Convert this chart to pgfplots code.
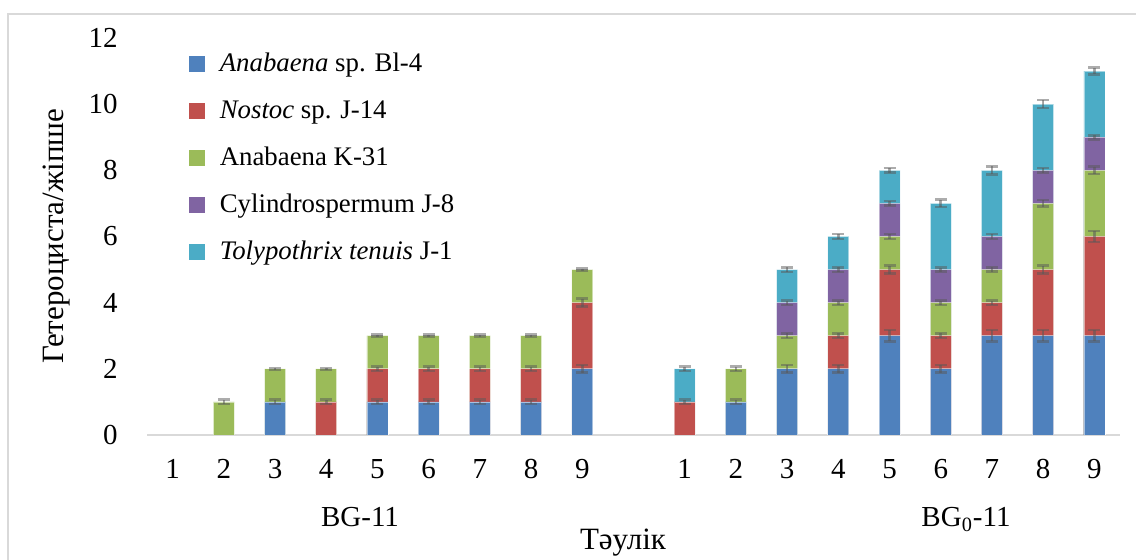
\documentclass[border=0pt]{standalone}
\usepackage{fontspec}
\setmainfont{Liberation Serif}
\usepackage{pgfplots}
\usepackage{pgfplotstable}
\pgfplotsset{compat=1.18}

\definecolor{cBlue}{HTML}{4F81BD}
\definecolor{cRed}{HTML}{C0504D}
\definecolor{cGreen}{HTML}{9BBB59}
\definecolor{cPurple}{HTML}{8064A2}
\definecolor{cCyan}{HTML}{4BACC6}
\definecolor{errGray}{HTML}{595959}
\definecolor{lineGray}{HTML}{D9D9D9}

% Positions: 0-8 = BG-11 days 1-9, 10-18 = BG0-11 days 1-9.
% y = upper edge of the segment in the stack, e = error.
\pgfplotstableread{
x y e
2 1 0.065
4 1 0.065
5 1 0.065
6 1 0.065
7 1 0.065
8 2 0.12
11 1 0.065
12 2 0.12
13 2 0.12
14 3 0.17
15 2 0.12
16 3 0.17
17 3 0.17
18 3 0.17
}\tabBlue
\pgfplotstableread{
x y e
3 1 0.065
4 2 0.065
5 2 0.065
6 2 0.065
7 2 0.065
8 4 0.12
10 1 0.065
13 3 0.07
14 5 0.12
15 3 0.07
16 4 0.065
17 5 0.12
18 6 0.17
}\tabRed
\pgfplotstableread{
x y e
1 1 0.065
2 2 0.03
3 2 0.03
4 3 0.03
5 3 0.03
6 3 0.03
7 3 0.03
8 5 0.03
11 2 0.07
12 3 0.07
13 4 0.065
14 6 0.07
15 4 0.065
16 5 0.065
17 7 0.10
18 8 0.11
}\tabGreen
\pgfplotstableread{
x y e
12 4 0.065
13 5 0.07
14 7 0.07
15 5 0.06
16 6 0.07
17 8 0.07
18 9 0.06
}\tabPurple
\pgfplotstableread{
x y e
10 2 0.07
12 5 0.07
13 6 0.07
14 8 0.07
15 7 0.11
16 8 0.12
17 10 0.12
18 11 0.10
}\tabCyan

\pgfplotsset{
  seg/.style={fill=#1, draw=white, draw opacity=0.5, line width=0.4pt,
    bar shift=0pt, bar width=10.5pt,
    error bars/.cd, y dir=both, y explicit,
    error bar style={line width=1.3pt, color=errGray},
    error mark options={rotate=90, mark size=3pt, line width=1.3pt, color=errGray}},
}

\newcommand{\bigfont}{\fontsize{14.5}{17}\selectfont}
\newcommand{\labelfont}{\fontsize{15.5}{18}\selectfont}

\begin{document}
\begin{tikzpicture}
\begin{axis}[
  at={(73.5pt,62.5pt)}, anchor=south west,
  scale only axis, width=486.5pt, height=198.5pt,
  ybar,
  xmin=-0.5, xmax=18.5, ymin=0, ymax=12,
  ytick={0,2,4,6,8,10,12},
  xtick={0,1,2,3,4,5,6,7,8,10,11,12,13,14,15,16,17,18},
  xticklabels={1,2,3,4,5,6,7,8,9,1,2,3,4,5,6,7,8,9},
  axis x line*=bottom, axis y line*=left,
  x axis line style={draw=lineGray, line width=0.75pt, -},
  y axis line style={draw=none},
  major tick length=0pt,
  /pgf/number format/assume math mode=true,
  tick label style={font=\bigfont},
  yticklabel style={anchor=east, inner sep=0pt, xshift=-14.5pt},
  xticklabel style={anchor=base, inner sep=0pt, yshift=-22pt},
  reverse legend,
  legend cell align=left,
  legend image code/.code={\fill[#1,draw=none] (0pt,-4pt) rectangle (8pt,4pt);
    \path (15pt,0pt);},
  legend style={font=\fontsize{13.4}{16}\selectfont, draw=none, fill=none,
    inner sep=0pt, row sep=11.5pt, at={(0.0432,0.965)}, anchor=north west,
    nodes={inner sep=0pt, text height=9.5pt, text depth=2.5pt}},
]
\addplot[seg=cCyan] table[x=x, y=y, y error=e] {\tabCyan};
\addlegendentry{\textit{Tolypothrix tenuis} J-1}
\addplot[seg=cPurple] table[x=x, y=y, y error=e] {\tabPurple};
\addlegendentry{Cylindrospermum J-8}
\addplot[seg=cGreen] table[x=x, y=y, y error=e] {\tabGreen};
\addlegendentry{Anabaena K-31}
\addplot[seg=cRed] table[x=x, y=y, y error=e] {\tabRed};
\addlegendentry{\textit{Nostoc} sp. J-14}
\addplot[seg=cBlue] table[x=x, y=y, y error=e] {\tabBlue};
\addlegendentry{\textit{Anabaena} sp. Bl-4}
\end{axis}
\node[anchor=base, font=\bigfont] at (180pt,16.5pt) {BG-11};
\node[anchor=base, font=\bigfont] at (483pt,16.5pt) {BG\textsubscript{0}-11};
\node[anchor=base, font=\labelfont] at (311.5pt,5pt) {Тәулік};
\node[rotate=90, anchor=base, font=\labelfont] at (31.5pt,162pt) {Гетероциста/жіпше};
\draw[lineGray, line width=0.75pt] (4pt,-20pt) rectangle (600pt,273pt);
\pgfresetboundingbox
\useasboundingbox (0pt,0pt) rectangle (568pt,280pt);
\end{tikzpicture}
\end{document}
